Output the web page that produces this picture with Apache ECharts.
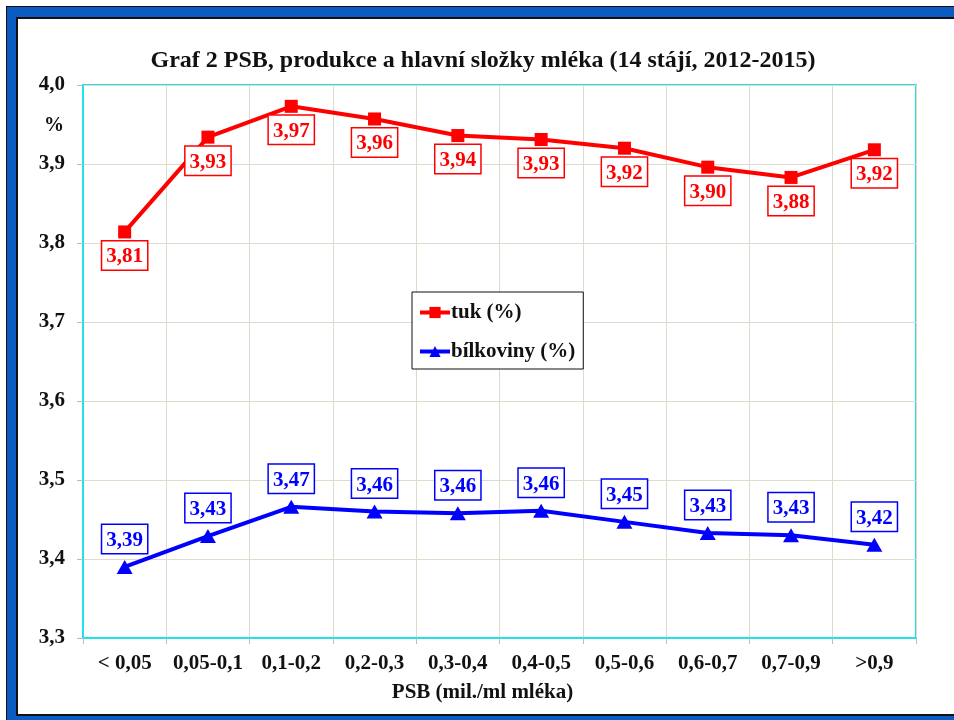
<!DOCTYPE html>
<html>
<head>
<meta charset="utf-8">
<script src="https://cdn.jsdelivr.net/npm/echarts@6/dist/echarts.min.js"></script>
<style>
  html, body { margin: 0; padding: 0; background: #fff; }
  #chart { width: 954px; height: 720px; }
</style>
</head>
<body>
<div id="chart"></div>
<script>
// kategorie PSB
var categories = ['< 0,05', '0,05-0,1', '0,1-0,2', '0,2-0,3', '0,3-0,4', '0,4-0,5', '0,5-0,6', '0,6-0,7', '0,7-0,9', '>0,9'];
// tuk (%)
var tukValues = [3.814, 3.934, 3.973, 3.957, 3.936, 3.931, 3.920, 3.896, 3.883, 3.918];
// bílkoviny (%)
var bilkValues = [3.390, 3.429, 3.466, 3.460, 3.458, 3.461, 3.447, 3.433, 3.430, 3.418];
var yMin = 3.3, yMax = 4.0, yStep = 0.1;

var serif = 'Liberation Serif';

function fmt(v) {
    return v.toFixed(1).replace('.', ',');
}
function fmt2(p) {
    return p.value.toFixed(2).replace('.', ',');
}

function initChart() {
    var chart = echarts.init(document.getElementById('chart'));

    // ramecek kolem celeho grafu
    var frame = [
        { type: 'rect', z: -10, shape: { x: 6, y: 6, width: 960, height: 720 }, style: { fill: '#111' } },
        { type: 'rect', z: -9, shape: { x: 7, y: 7, width: 960, height: 720 }, style: { fill: '#0b5cc2' } },
        { type: 'rect', z: -8, shape: { x: 16, y: 17, width: 960, height: 699 }, style: { fill: '#111' } },
        { type: 'rect', z: -7, shape: { x: 18, y: 19, width: 960, height: 695 }, style: { fill: '#fff' } },
        { type: 'text', z: 5, left: 44, top: 116, style: { text: '%', font: 'bold 20px "Liberation Serif"', fill: '#111' } }
    ];

    var labelBase = {
        show: true,
        fontFamily: serif,
        fontWeight: 'bold',
        fontSize: 21,
        backgroundColor: '#fff',
        borderWidth: 1.5,
        padding: [5, 4, 2, 4],
        formatter: fmt2
    };

    var option = {
        animation: false,
        backgroundColor: '#fff',
        graphic: frame,
        title: {
            text: 'Graf 2 PSB, produkce a hlavní složky mléka (14 stájí, 2012-2015)',
            left: 478,
            textAlign: 'center',
            top: 44,
            textStyle: { fontFamily: serif, fontWeight: 'bold', fontSize: 24, color: '#111' }
        },
        legend: {
            orient: 'vertical',
            left: 412,
            top: 292,
            itemWidth: 30,
            itemHeight: 14,
            itemGap: 18,
            padding: [10, 8, 7, 6],
            borderColor: '#111',
            borderWidth: 1,
            backgroundColor: '#fff',
            lineStyle: { width: 4 },
            textStyle: { fontFamily: serif, fontWeight: 'bold', fontSize: 21, color: '#111', padding: [0, 0, 0, -4] },
            data: ['tuk (%)', 'bílkoviny (%)']
        },
        grid: {
            left: 83,
            right: 38,
            top: 85,
            bottom: 82,
            show: true,
            borderColor: '#22e0e8',
            borderWidth: 2
        },
        xAxis: {
            type: 'category',
            data: categories,
            boundaryGap: true,
            name: 'PSB (mil./ml mléka)',
            nameLocation: 'middle',
            nameGap: 44,
            nameTextStyle: { fontFamily: serif, fontWeight: 'bold', fontSize: 21, color: '#111', padding: [0, 34, 0, 0] },
            axisLine: { show: true, lineStyle: { color: '#22e0e8', width: 2 } },
            axisTick: { show: true, inside: false, length: 6, interval: 0, lineStyle: { color: '#bbb' } },
            axisLabel: { interval: 0, margin: 15, fontFamily: serif, fontWeight: 'bold', fontSize: 21, color: '#111' },
            splitLine: { show: true, interval: 0, lineStyle: { color: '#dcdccc', width: 1 } }
        },
        yAxis: {
            type: 'value',
            min: yMin,
            max: yMax,
            interval: yStep,
            axisLine: { show: true, lineStyle: { color: '#22e0e8', width: 2 } },
            axisTick: { show: true, length: 6, lineStyle: { color: '#bbb' } },
            axisLabel: { margin: 18, fontFamily: serif, fontWeight: 'bold', fontSize: 21, color: '#111', formatter: fmt },
            splitLine: { show: true, lineStyle: { color: '#dcdccc', width: 1 } }
        },
        series: [
            {
                name: 'tuk (%)',
                type: 'line',
                data: tukValues,
                symbol: 'rect',
                symbolSize: 13,
                color: '#ff0000',
                lineStyle: { width: 4, color: '#ff0000' },
                itemStyle: { color: '#ff0000' },
                label: Object.assign({}, labelBase, { position: 'bottom', distance: 3, color: '#ff0000', borderColor: '#ff0000' })
            },
            {
                name: 'bílkoviny (%)',
                type: 'line',
                data: bilkValues,
                symbol: 'triangle',
                symbolSize: [16, 14],
                color: '#0000ff',
                lineStyle: { width: 4, color: '#0000ff' },
                itemStyle: { color: '#0000ff' },
                label: Object.assign({}, labelBase, { position: 'top', distance: 7, color: '#0000ff', borderColor: '#0000ff' })
            }
        ]
    };
    chart.setOption(option);
}

initChart();
</script>
</body>
</html>
